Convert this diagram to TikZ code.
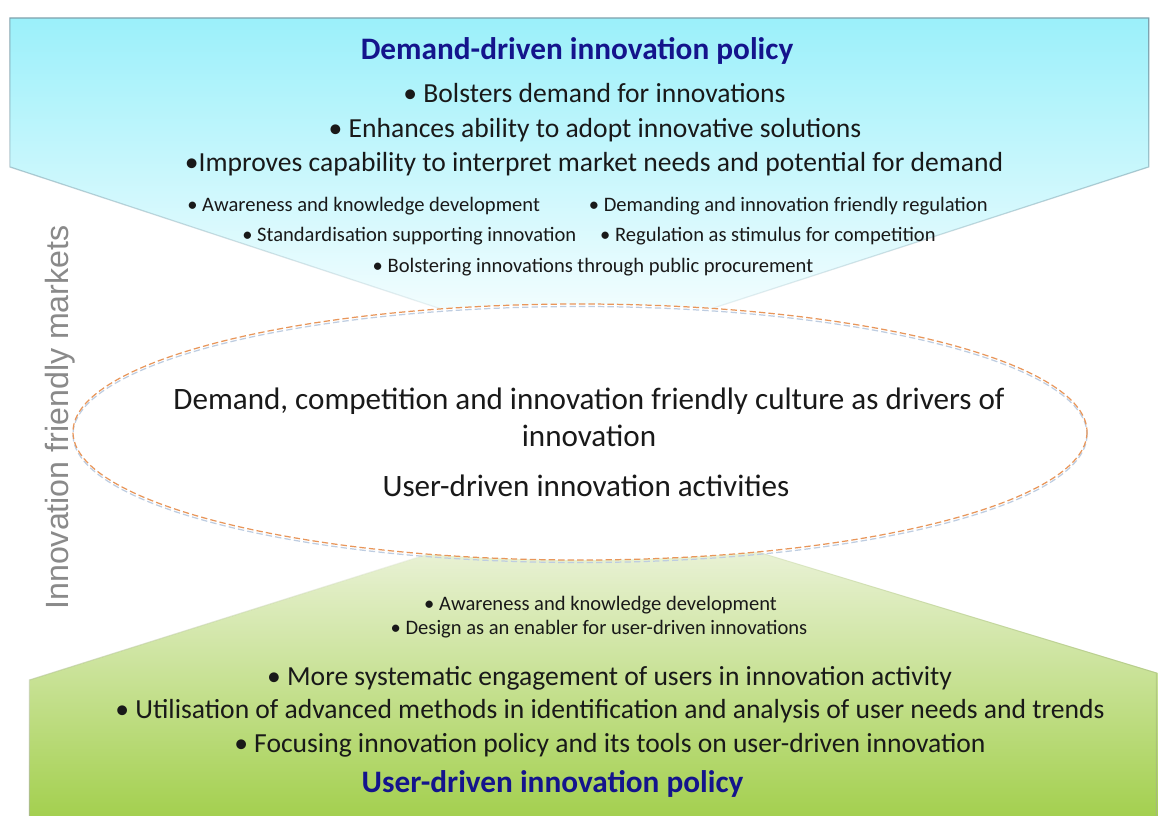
\documentclass[tikz,border=0pt]{standalone}
\usepackage{fontspec}
\setmainfont{Carlito}
\newfontfamily\labelfont{Liberation Sans}
\usetikzlibrary{fadings}

\definecolor{topcyan}{RGB}{155,240,250}
\definecolor{topmid}{RGB}{204,238,246}
\definecolor{topedge}{RGB}{125,160,172}
\definecolor{botgreen}{RGB}{160,206,72}
\definecolor{botmid}{RGB}{212,229,172}
\definecolor{botpale}{RGB}{246,248,238}
\definecolor{botedge}{RGB}{165,185,125}
\definecolor{titleblue}{RGB}{20,20,140}
\definecolor{ringorange}{RGB}{232,150,90}
\definecolor{ringblue}{RGB}{190,205,225}
\definecolor{sidegray}{RGB}{138,138,138}
\definecolor{textblack}{RGB}{25,25,25}

\tikzset{
  policytitle/.style={font=\fontsize{17.8pt}{21pt}\selectfont\bfseries, text=titleblue, inner sep=0pt, anchor=base},
  mainline/.style={font=\fontsize{15.7pt}{19pt}\selectfont, text=textblack, inner sep=0pt, anchor=base},
  smallline/.style={font=\fontsize{11.7pt}{14pt}\selectfont, text=textblack, inner sep=0pt, anchor=base},
  coreline/.style={font=\fontsize{17.7pt}{21pt}\selectfont, text=textblack, inner sep=0pt, anchor=base},
  ringline/.style={line width=0.7pt, dash pattern=on 3.6pt off 1.8pt},
}

\begin{document}
\begin{tikzpicture}[x=0.02cm,y=-0.02cm]
  \clip (0,0) rectangle (1158,815);
  \fill[white] (0,0) rectangle (1158,815);

  % demand-driven funnel (top)
  \shade[top color=topcyan, middle color=topmid, bottom color=white]
    (10,18) -- (1149,18) -- (1149,167) -- (575,353) -- (10,167) -- cycle;
  \draw[topedge, line width=0.7pt, path fading=south]
    (10,18) -- (1149,18) -- (1149,167) -- (575,353) -- (10,167) -- cycle;

  % user-driven funnel (bottom)
  \shade[top color=botpale, middle color=botmid, bottom color=botgreen]
    (30,830) -- (30,680) -- (594,502) -- (1158,673) -- (1158,830) -- cycle;
  \draw[botedge, line width=0.6pt, path fading=north]
    (30,830) -- (30,680) -- (594,502) -- (1158,673) -- (1158,830);

  % central ring
  \fill[white] (580,432) ellipse [x radius=507, y radius=128];
  \draw[ringblue, ringline] (580,434.5) ellipse [x radius=507, y radius=128];
  \draw[ringorange, ringline] (580,432) ellipse [x radius=507, y radius=128];

  % top texts
  \node[policytitle] (toptitle) at (577,59) {Demand-driven innovation policy};
  \node[mainline] (topA) at (594.5,102) {• Bolsters demand for innovations};
  \node[mainline] (topB) at (595,137) {• Enhances ability to adopt innovative solutions};
  \node[mainline] (topC) at (594,171.5) {•Improves capability to interpret market needs and potential for demand};
  \node[smallline, anchor=base west] (topsA) at (187,211) {• Awareness and knowledge development};
  \node[smallline, anchor=base east] (topsB) at (988,211) {• Demanding and innovation friendly regulation};
  \node[smallline, anchor=base west] (topsC) at (242,241.5) {• Standardisation supporting innovation};
  \node[smallline, anchor=base east] (topsD) at (936,241.5) {• Regulation as stimulus for competition};
  \node[smallline] (topsE) at (593,272) {• Bolstering innovations through public procurement};

  % central texts
  \node[coreline] (coreA) at (589,409) {Demand, competition and innovation friendly culture as drivers of};
  \node[coreline] (coreB) at (589,446) {innovation};
  \node[coreline] (coreC) at (586,496) {User-driven innovation activities};

  % bottom texts
  \node[smallline] (botsA) at (600.5,610.7) {• Awareness and knowledge development};
  \node[smallline] (botsB) at (599,634) {• Design as an enabler for user-driven innovations};
  \node[mainline] (botA) at (609.5,685) {• More systematic engagement of users in innovation activity};
  \node[mainline] (botB) at (610,718) {• Utilisation of advanced methods in identification and analysis of user needs and trends};
  \node[mainline] (botC) at (610,752) {• Focusing innovation policy and its tools on user-driven innovation};
  \node[policytitle] (bottitle) at (552.5,792) {User-driven innovation policy};

  % side label
  \node[rotate=90, font=\labelfont\fontsize{18.3pt}{22pt}\selectfont, text=sidegray,
        inner sep=0pt, anchor=base] (sidelabel) at (68,417.5) {Innovation friendly markets};
\end{tikzpicture}
\end{document}
